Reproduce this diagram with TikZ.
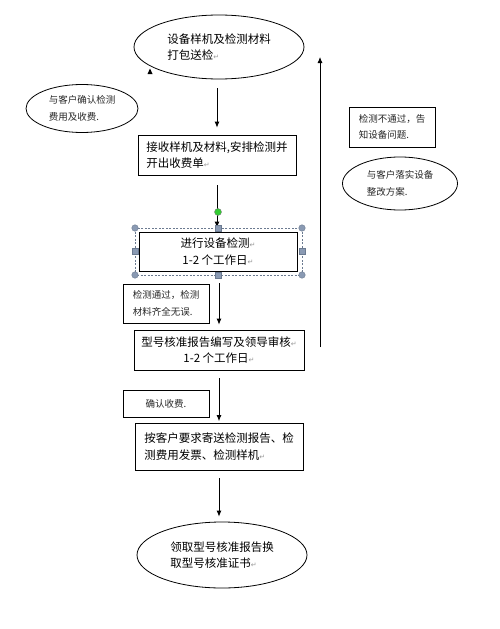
\documentclass[tikz,border=0pt]{standalone}
\usepackage{fontspec}
\setmainfont{Noto Sans CJK SC}
\newfontfamily\symfont{DejaVu Sans}
\usetikzlibrary{shapes.geometric,arrows.meta}
\newcommand{\rt}{{\symfont\color{gray!80}\fontsize{7}{7}\selectfont ↵}}
\definecolor{hdl}{HTML}{8A9AB3}
\definecolor{hdledge}{HTML}{6B7A90}
\begin{document}
\begin{tikzpicture}[x=1pt,y=-1pt,
  every node/.style={inner sep=0pt, font=\fontsize{11.5}{16.5}\selectfont},
  flow/.style={draw=black, line width=0.8pt, rectangle},
  oval/.style={draw=black, line width=0.8pt, ellipse},
  note/.style={font=\fontsize{9.5}{16.5}\selectfont, text=black!85},
  conn/.style={line width=0.8pt, -{Latex[length=6pt,width=5pt]}},
  handlec/.style={circle, fill=hdl, draw=hdledge, line width=0.4pt, minimum size=6.5pt},
  handles/.style={rectangle, fill=hdl, draw=hdledge, line width=0.4pt, minimum size=6pt}]
\useasboundingbox (0,0) rectangle (500,629);
\fill[white] (0,0) rectangle (500,629);

% main flow
\node[oval, minimum width=170pt, minimum height=64pt, align=left] (start) at (219,47) {设备样机及检测材料\\打包送检\rt};
\node[oval, note, minimum width=112pt, minimum height=48pt, align=left] (fee) at (82,108.5) {与客户确认检测\\费用及收费.};
\node[flow, minimum width=158pt, minimum height=40pt, align=left] (recv) at (217,155) {接收样机及材料,安排检测并\\开出收费单\rt};

% selection frame (drawn under box)
\draw[hdledge, line width=0.5pt, dash pattern=on 2pt off 1.5pt] (135,228) rectangle (302,275);

\node[flow, minimum width=158pt, minimum height=39pt, align=center] (test) at (218,251.5) {进行设备检测\rt\\1-2 个工作日\rt};
\node[flow, note, minimum width=86pt, minimum height=39pt, align=left] (pass) at (166,303.5) {检测通过，检测\\材料齐全无误.};
\node[flow, minimum width=170pt, minimum height=40pt, align=center] (audit) at (219,350) {型号核准报告编写及领导审核\rt\\1-2 个工作日\rt};
\node[flow, note, minimum width=86pt, minimum height=27pt] (pay) at (166,403.5) {确认收费.};
\node[flow, minimum width=168pt, minimum height=47pt, align=left] (send) at (219,446.5) {按客户要求寄送检测报告、检\\测费用发票、检测样机\rt};
\node[oval, minimum width=170pt, minimum height=66pt, align=left] (finish) at (222,555) {领取型号核准报告换\\取型号核准证书\rt};

% right side
\node[flow, note, minimum width=86pt, minimum height=40pt, align=left] (fail) at (392,127) {检测不通过，告\\知设备问题.};
\node[oval, note, minimum width=115pt, minimum height=53pt, align=left] (fix) at (400,183.5) {与客户落实设备\\整改方案.};

% connectors
\draw[conn, shorten <=9pt, shorten >=7pt] (recv.north |- start.south) -- (recv.north);
\draw[conn, shorten <=10pt, shorten >=4pt] (recv.south) -- (recv.south |- test.north);
\draw[conn, shorten <=12pt, shorten >=5pt] (audit.north |- test.south) -- (audit.north);
\draw[conn, shorten <=8pt, shorten >=1.5pt] (send.north |- audit.south) -- (send.north);
\draw[conn, shorten <=8pt, shorten >=5pt] (send.south) -- (send.south |- finish.north);

\coordinate (backS) at (320,347);
\coordinate (backN) at (320,57);
\draw[conn] (backS) -- (backN);

% stray arrowhead under start ellipse
\fill (147.5,74) -- (152.5,74) -- (150,68.5) -- cycle;

% selection handles
\node[handlec] (h1) at (135,228) {};
\node[handlec] (h2) at (302,228) {};
\node[handlec] (h3) at (135,275) {};
\node[handlec] (h4) at (302,275) {};
\node[handles] (h5) at (218,228) {};
\node[handles] (h6) at (218,275) {};
\node[handles] (h7) at (135,251.5) {};
\node[handles] (h8) at (302,251.5) {};
\node[circle, fill=green!75!black!80, draw=gray, line width=0.4pt, minimum size=7pt] (rot) at (218,212) {};
\end{tikzpicture}
\end{document}
